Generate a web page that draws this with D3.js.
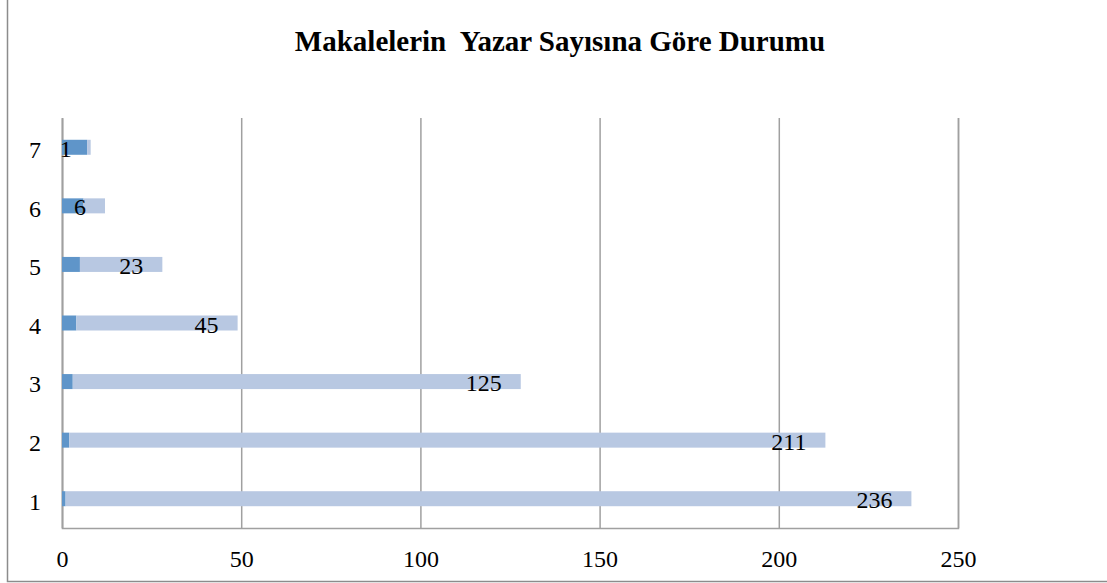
<!DOCTYPE html>
<html>
<head>
<meta charset="utf-8">
<script src="https://cdn.jsdelivr.net/npm/d3@7"></script>
<style>
  html, body { margin: 0; padding: 0; background: #fff; }
  svg { display: block; }
  text { white-space: pre; }
</style>
</head>
<body>
<svg id="chart" width="1107" height="583"></svg>
<script>
const title = "Makalelerin  Yazar Sayısına Göre Durumu";
const categories = ["1", "2", "3", "4", "5", "6", "7"];
const authorCounts = [1, 2, 3, 4, 5, 6, 7];
const articleCounts = [236, 211, 125, 45, 23, 6, 1];
const xTicks = [0, 50, 100, 150, 200, 250];

(function () {
const svg = d3.select("#chart");
const W = 1107, H = 583;
const margin = { left: 62, right: W - 958, top: 118, bottom: H - 528 };
const font = "'Liberation Serif', 'Times New Roman', serif";

// outer frame
svg.append("rect")
  .attr("x", 7.5).attr("y", -2).attr("width", 1120).attr("height", 583.5)
  .attr("fill", "none").attr("stroke", "#8c8c8c").attr("stroke-width", 1.5);

const rows = categories.map((c, i) => ({ cat: c, authors: authorCounts[i], articles: articleCounts[i] }));
const series = d3.stack().keys(["authors", "articles"])(rows);

const x = d3.scaleLinear().domain([0, 250]).range([margin.left, W - margin.right]);
const y = d3.scaleBand().domain(categories.slice().reverse()).range([margin.top, H - margin.bottom]).paddingInner(0.745).paddingOuter(0.3725);

const gx = svg.append("g").attr("transform", `translate(0,${H - margin.bottom})`)
  .call(d3.axisBottom(x).tickValues(xTicks).tickSize(-(H - margin.bottom - margin.top)).tickPadding(18).tickFormat(d3.format("d")));
gx.select(".domain").attr("stroke", "#a0a0a0").attr("stroke-width", 1.5);
gx.selectAll(".tick line").attr("stroke", "#a0a0a0").attr("stroke-width", 1.5);
gx.selectAll(".tick text").attr("font-family", font).attr("font-size", 24).attr("fill", "#000")
  .attr("y", 39).attr("dy", "0");

const gy = svg.append("g").attr("transform", `translate(${margin.left},0)`)
  .call(d3.axisLeft(y).tickSize(0).tickPadding(21));
gy.select(".domain").attr("stroke", "#a0a0a0").attr("stroke-width", 1.5);
gy.selectAll(".tick text").attr("font-family", font).attr("font-size", 24).attr("fill", "#000").attr("dy", "0.45em");

const colors = ["#5f95c9", "#b8c8e2"];
const bandH = 15;
series.forEach((s, si) => {
  svg.append("g").selectAll("rect").data(s).join("rect")
    .attr("x", d => x(d[0]))
    .attr("width", d => x(d[1]) - x(d[0]))
    .attr("y", d => y(d.data.cat) + y.bandwidth() / 2 - bandH / 2)
    .attr("height", bandH)
    .attr("fill", colors[si]);
});

const labelSeries = series[1];
svg.append("g").selectAll("text").data(labelSeries).join("text")
  .attr("x", d => x(d[1]) - 19)
  .attr("y", d => y(d.data.cat) + y.bandwidth() / 2)
  .attr("dy", "0.4em")
  .attr("text-anchor", "end")
  .attr("font-family", font).attr("font-size", 24).attr("fill", "#000")
  .text(d => d.data.articles);

svg.append("text")
  .attr("x", 560).attr("y", 51)
  .attr("text-anchor", "middle")
  .attr("font-family", font).attr("font-size", 29).attr("font-weight", "bold")
  .attr("xml:space", "preserve")
  .text(title);
})();
</script>
</body>
</html>
